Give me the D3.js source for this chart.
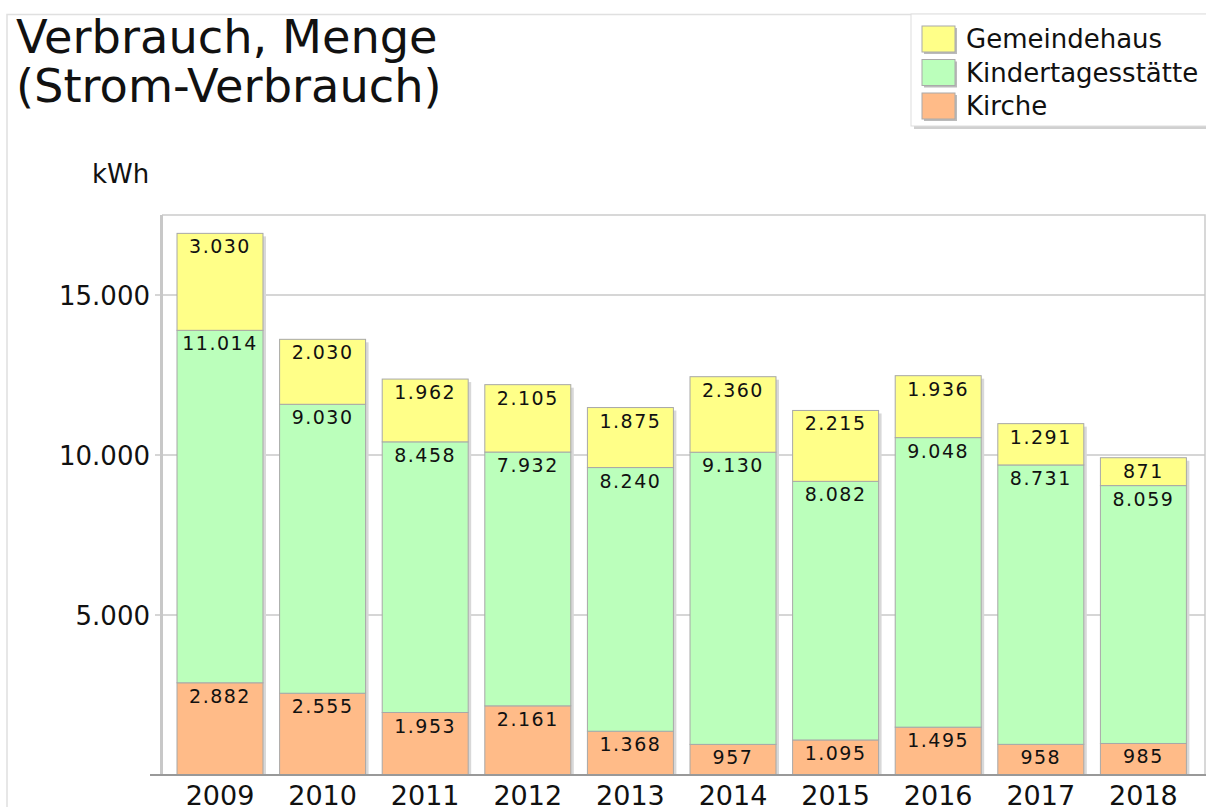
<!DOCTYPE html>
<html>
<head>
<meta charset="utf-8">
<script src="https://cdn.jsdelivr.net/npm/d3@7"></script>
<style>
  body { margin: 0; background: #fff; }
  svg { display: block; font-family: "DejaVu Sans", Verdana, sans-serif; }
</style>
</head>
<body>
<svg id="chart" width="1206" height="807"></svg>
<script>
const years = ['2009', '2010', '2011', '2012', '2013', '2014', '2015', '2016', '2017', '2018'];
const kirche = [2882, 2555, 1953, 2161, 1368, 957, 1095, 1495, 958, 985];
const kita = [11014, 9030, 8458, 7932, 8240, 9130, 8082, 9048, 8731, 8059];
const gemeindehaus = [3030, 2030, 1962, 2105, 1875, 2360, 2215, 1936, 1291, 871];
const yTicks = [5000, 10000, 15000];

const seriesNames = ['Kirche', 'Kindertagesstätte', 'Gemeindehaus'];
const colors = { 'Kirche': '#ffbb88', 'Kindertagesstätte': '#bbffbb', 'Gemeindehaus': '#ffff88' };

const rows = years.map((y, i) => ({
  year: y,
  'Kirche': kirche[i],
  'Kindertagesstätte': kita[i],
  'Gemeindehaus': gemeindehaus[i],
}));

const width = 1206;
const height = 807;
const plot = { left: 162, right: 1205, top: 215, bottom: 775 };

const fmt = d3.formatLocale({ decimal: ',', thousands: '.', grouping: [3], currency: ['', '€'] }).format(',d');

const svg = d3.select('#chart');

// outer frame
svg.append('path')
  .attr('d', `M7,${height} V14.5 H${width}`)
  .attr('fill', 'none')
  .attr('stroke', '#e0e0e0')
  .attr('stroke-width', 1.5);

const x = d3.scaleBand()
  .domain(years)
  .range([168.7, 1194.7])
  .paddingInner(0.162)
  .paddingOuter(0.081);

const y = d3.scaleLinear()
  .domain([0, 17500])
  .range([plot.bottom, plot.top]);

// plot frame
svg.append('path')
  .attr('d', `M${plot.left},${plot.top} H${plot.right} V${plot.bottom}`)
  .attr('fill', 'none')
  .attr('stroke', '#cccccc')
  .attr('stroke-width', 1.5);

// grid lines
svg.append('g')
  .selectAll('line')
  .data(yTicks)
  .join('line')
  .attr('x1', 155)
  .attr('x2', plot.right)
  .attr('y1', (d) => y(d))
  .attr('y2', (d) => y(d))
  .attr('stroke', '#c8c8c8')
  .attr('stroke-width', 1.5);

// left axis line
svg.append('line')
  .attr('x1', plot.left - 0.5)
  .attr('x2', plot.left - 0.5)
  .attr('y1', plot.top)
  .attr('y2', plot.bottom)
  .attr('stroke', '#c8c8c8')
  .attr('stroke-width', 3);

// y tick labels
svg.append('g')
  .selectAll('text')
  .data(yTicks)
  .join('text')
  .attr('x', 150)
  .attr('y', (d) => y(d) + 10)
  .attr('text-anchor', 'end')
  .attr('font-size', 26)
  .attr('fill', '#111')
  .text((d) => fmt(d));

svg.append('text')
  .attr('x', 92)
  .attr('y', 183)
  .attr('font-size', 26)
  .attr('fill', '#111')
  .text('kWh');

// title
const title = svg.append('text')
  .attr('font-size', 46.3)
  .attr('fill', '#111');
title.append('tspan').attr('x', 16).attr('y', 53).text('Verbrauch, Menge');
title.append('tspan').attr('x', 16).attr('y', 102).text('(Strom-Verbrauch)');

const stacked = d3.stack().keys(seriesNames)(rows);

// bar shadows
svg.append('g')
  .selectAll('rect')
  .data(rows)
  .join('rect')
  .attr('x', (d) => x(d.year) + 3)
  .attr('y', (d) => y(d['Kirche'] + d['Kindertagesstätte'] + d['Gemeindehaus']) + 3)
  .attr('width', x.bandwidth())
  .attr('height', (d) => plot.bottom - 3 - y(d['Kirche'] + d['Kindertagesstätte'] + d['Gemeindehaus']))
  .attr('fill', '#d8d8d8');

const layers = svg.append('g')
  .selectAll('g')
  .data(stacked)
  .join('g')
  .attr('fill', (s) => colors[s.key]);

layers.selectAll('rect')
  .data((s) => s)
  .join('rect')
  .attr('x', (d) => x(d.data.year))
  .attr('y', (d) => y(d[1]))
  .attr('width', x.bandwidth())
  .attr('height', (d) => y(d[0]) - y(d[1]))
  .attr('stroke', '#a8a8a8')
  .attr('stroke-width', 1);

layers.selectAll('text')
  .data((s) => s.map((d) => ({ d, key: s.key })))
  .join('text')
  .attr('x', (e) => x(e.d.data.year) + x.bandwidth() / 2)
  .attr('y', (e) => y(e.d[1]) + 20)
  .attr('text-anchor', 'middle')
  .attr('font-size', 19)
  .attr('letter-spacing', 1.5)
  .attr('fill', '#111')
  .text((e) => fmt(e.d.data[e.key]));

// bottom axis
svg.append('line')
  .attr('x1', 150)
  .attr('x2', width)
  .attr('y1', plot.bottom)
  .attr('y2', plot.bottom)
  .attr('stroke', '#999')
  .attr('stroke-width', 2);

svg.append('g')
  .selectAll('text')
  .data(years)
  .join('text')
  .attr('x', (d) => x(d) + x.bandwidth() / 2)
  .attr('y', 805)
  .attr('text-anchor', 'middle')
  .attr('font-size', 27)
  .attr('fill', '#111')
  .text((d) => d);

// legend
const legendItems = ['Gemeindehaus', 'Kindertagesstätte', 'Kirche'];
const legend = svg.append('g');
legend.append('rect')
  .attr('x', 914)
  .attr('y', 17)
  .attr('width', 300)
  .attr('height', 112)
  .attr('fill', '#d0d0d0');
legend.append('rect')
  .attr('x', 911)
  .attr('y', 14)
  .attr('width', 300)
  .attr('height', 112)
  .attr('fill', '#fff')
  .attr('stroke', '#dddddd');

const li = legend.selectAll('g.item')
  .data(legendItems)
  .join('g')
  .attr('class', 'item')
  .attr('transform', (d, i) => `translate(922, ${26 + i * 33.5})`);

li.append('rect')
  .attr('x', 2)
  .attr('y', 2)
  .attr('width', 33)
  .attr('height', 26)
  .attr('fill', '#bbb');
li.append('rect')
  .attr('width', 33)
  .attr('height', 26)
  .attr('fill', (d) => colors[d])
  .attr('stroke', '#aaa');
li.append('text')
  .attr('x', 44)
  .attr('y', 22)
  .attr('font-size', 26)
  .attr('fill', '#111')
  .text((d) => d);
</script>
</body>
</html>
